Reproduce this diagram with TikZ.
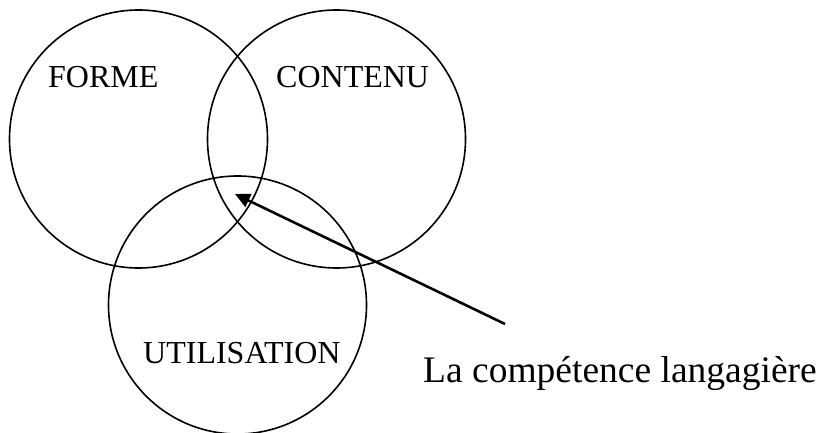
\documentclass[tikz,border=0pt]{standalone}
\usepackage{fontspec}
\setmainfont{Liberation Serif}
\usetikzlibrary{arrows.meta}
\begin{document}
\begin{tikzpicture}[x=1pt,y=-1pt,
  ring/.style={draw=black,line width=1.6pt,circle,inner sep=0pt,minimum size=258pt},
  lbl/.style={anchor=base west,inner sep=0pt,font=\fontsize{32}{36}\selectfont},
  biglbl/.style={anchor=base west,inner sep=0pt,font=\fontsize{37.5}{42}\selectfont},
  pointer/.style={line width=2.6pt,-{Triangle[length=15pt,width=14pt]}}]
\useasboundingbox (0,0) rectangle (819,433);
\node[ring] (forme) at (138.5,139) {};
\node[ring] (contenu) at (336.5,139) {};
\node[ring] (utilisation) at (237.5,305) {};
\node[lbl] (tforme) at (48,88) {FORME};
\node[lbl] (tcontenu) at (276,88) {CONTENU};
\node[lbl] (tutil) at (143,363) {UTILISATION};
\node[biglbl] (tcomp) at (423,382) {La compétence langagière};
\coordinate (tail) at (505,324);
\coordinate (tip) at (235,194);
\draw[pointer] (tail) -- (tip);
\end{tikzpicture}
\end{document}
